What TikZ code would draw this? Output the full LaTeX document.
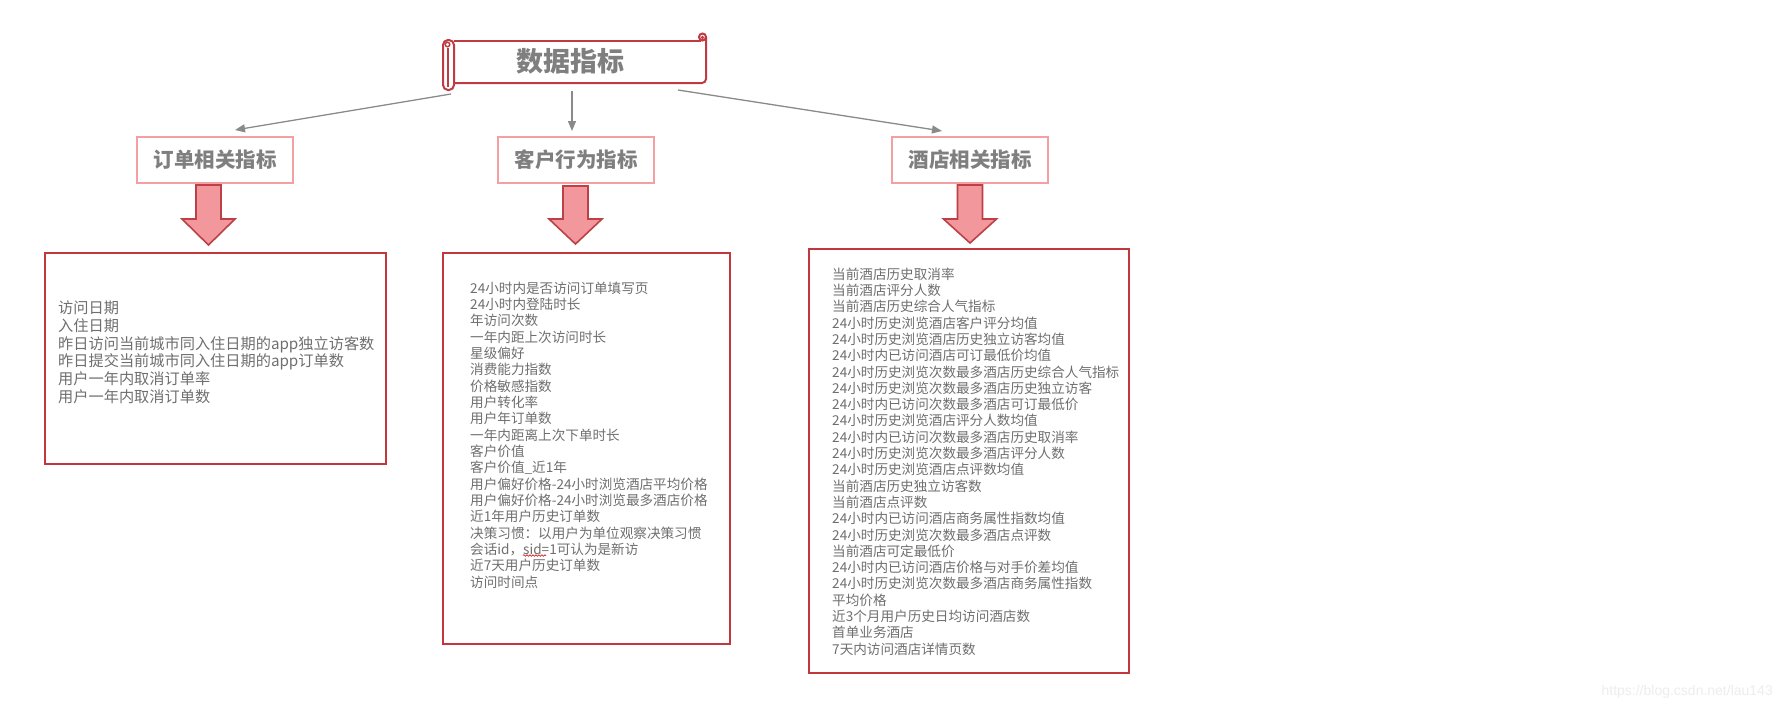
\documentclass[tikz,border=0pt]{standalone}
\usepackage{fontspec}
\setmainfont{Noto Sans CJK SC}
\usetikzlibrary{arrows.meta,decorations.pathmorphing}
\definecolor{scrollred}{HTML}{BF3A41}
\definecolor{boxred}{HTML}{C1373C}
\definecolor{pinkline}{HTML}{F3A0A3}
\definecolor{arrowfill}{HTML}{F2979B}
\definecolor{arrowdraw}{HTML}{BC4045}
\definecolor{txtgray}{HTML}{6F6F6F}
\definecolor{titlegray}{HTML}{7F7F7F}
\definecolor{conngray}{HTML}{8A8A8A}
\tikzset{
  scrollline/.style={draw=scrollred, line width=2pt},
  catbox/.style={draw=pinkline, line width=2pt, fill=white, minimum width=156pt, minimum height=46pt, inner sep=0pt,
    text=titlegray, font=\fontsize{20.5}{24}\selectfont\bfseries},
  bigbox/.style={draw=boxred, line width=2pt, inner sep=0pt},
  conn/.style={draw=conngray, line width=1.3pt, -{Triangle[length=10pt,width=8pt]}},
  blockarrow/.style={draw=arrowdraw, fill=arrowfill, line width=1.6pt, line join=miter},
  listtext/.style={anchor=north west, inner sep=0pt, align=left, text=txtgray},
}
\begin{document}
\begin{tikzpicture}[x=1pt,y=-1pt]
\useasboundingbox[fill=white] (0,0) rectangle (1782,710);

% title scroll
\draw[scrollline, rounded corners=2pt] (454,41) -- (701,41);
\draw[scrollline, rounded corners=4pt] (706,37) -- (706,83) -- (454,83);
\draw[scrollline] (702.5,37) circle (3.5pt);
\draw[scrollline, line width=1.2pt] (702.5,37.5) circle (1pt);
\draw[scrollline, fill=white, rounded corners=5pt] (443,40) rectangle (454,90);
\draw[scrollline, line width=1.4pt] (447.5,44.5) circle (2.3pt);
\draw[scrollline, line width=1.4pt] (448,48) -- (448,87);
\node[inner sep=0pt, text=titlegray, font=\fontsize{27}{30}\selectfont\bfseries] (title) at (570,61) {数据指标};

% named connector ends
\coordinate (s1) at (451,94);
\coordinate (s2) at (572,91);
\coordinate (s3) at (678,90);

% category boxes
\node[catbox] (cat1) at (215,160) {订单相关指标};
\node[catbox] (cat2) at (576,160) {客户行为指标};
\node[catbox] (cat3) at (970,160) {酒店相关指标};

\draw[conn] (s1) -- ([xshift=20pt,yshift=6pt]cat1.north);
\draw[conn] (s2) -- ([xshift=-4pt,yshift=5pt]cat2.north);
\draw[conn] (s3) -- ([xshift=-28pt,yshift=5pt]cat3.north);

% block arrows
\foreach \cx/\tp/\tip in {208.5/185/245, 575.5/186/244, 970/185/243}{
  \draw[blockarrow] (\cx-12.5,\tp) -- (\cx+12.5,\tp) -- (\cx+12.5,219) -- (\cx+26.5,219)
     -- (\cx,\tip) -- (\cx-26.5,219) -- (\cx-12.5,219) -- cycle;
}

% big boxes
\draw[bigbox] (45,253) rectangle (386,464);
\node[inner sep=0pt, minimum width=341pt, minimum height=211pt] (box1) at (215.5,358.5) {};
\draw[bigbox] (443,253) rectangle (730,644);
\node[inner sep=0pt, minimum width=287pt, minimum height=391pt] (box2) at (586.5,448.5) {};
\draw[bigbox] (809,249) rectangle (1129,673);
\node[inner sep=0pt, minimum width=320pt, minimum height=424pt] (box3) at (969,461) {};

\node[listtext, font=\fontsize{15.2}{17.8}\selectfont] (t1) at (58,300.5) {
访问日期\\
入住日期\\
昨日访问当前城市同入住日期的app独立访客数\\
昨日提交当前城市同入住日期的app订单数\\
用户一年内取消订单率\\
用户一年内取消订单数};

\node[listtext, font=\fontsize{13.6}{16.33}\selectfont] (t2) at (470,281.5) {
24小时内是否访问订单填写页\\
24小时内登陆时长\\
年访问次数\\
一年内距上次访问时长\\
星级偏好\\
消费能力指数\\
价格敏感指数\\
用户转化率\\
用户年订单数\\
一年内距离上次下单时长\\
客户价值\\
客户价值\_近1年\\
用户偏好价格-24小时浏览酒店平均价格\\
用户偏好价格-24小时浏览最多酒店价格\\
近1年用户历史订单数\\
决策习惯：以用户为单位观察决策习惯\\
会话id，sid=1可认为是新访\\
近7天用户历史订单数\\
访问时间点};
\coordinate (w1) at (523,555.5);
\coordinate (w2) at (546,555.5);
\draw[red!80!black, line width=0.6pt, decorate, decoration={snake, amplitude=0.8pt, segment length=3pt}] (w1) -- (w2);

\node[listtext, font=\fontsize{13.6}{16.3}\selectfont] (t3) at (832,267.5) {
当前酒店历史取消率\\
当前酒店评分人数\\
当前酒店历史综合人气指标\\
24小时历史浏览酒店客户评分均值\\
24小时历史浏览酒店历史独立访客均值\\
24小时内已访问酒店可订最低价均值\\
24小时历史浏览次数最多酒店历史综合人气指标\\
24小时历史浏览次数最多酒店历史独立访客\\
24小时内已访问次数最多酒店可订最低价\\
24小时历史浏览酒店评分人数均值\\
24小时内已访问次数最多酒店历史取消率\\
24小时历史浏览次数最多酒店评分人数\\
24小时历史浏览酒店点评数均值\\
当前酒店历史独立访客数\\
当前酒店点评数\\
24小时内已访问酒店商务属性指数均值\\
24小时历史浏览次数最多酒店点评数\\
当前酒店可定最低价\\
24小时内已访问酒店价格与对手价差均值\\
24小时历史浏览次数最多酒店商务属性指数\\
平均价格\\
近3个月用户历史日均访问酒店数\\
首单业务酒店\\
7天内访问酒店详情页数};

\node[anchor=east, inner sep=0pt, text=black!7, font=\fontsize{14}{16}\selectfont] (wm) at (1773,692) {\fontspec{Liberation Sans}https://blog.csdn.net/lau143};
\end{tikzpicture}
\end{document}
